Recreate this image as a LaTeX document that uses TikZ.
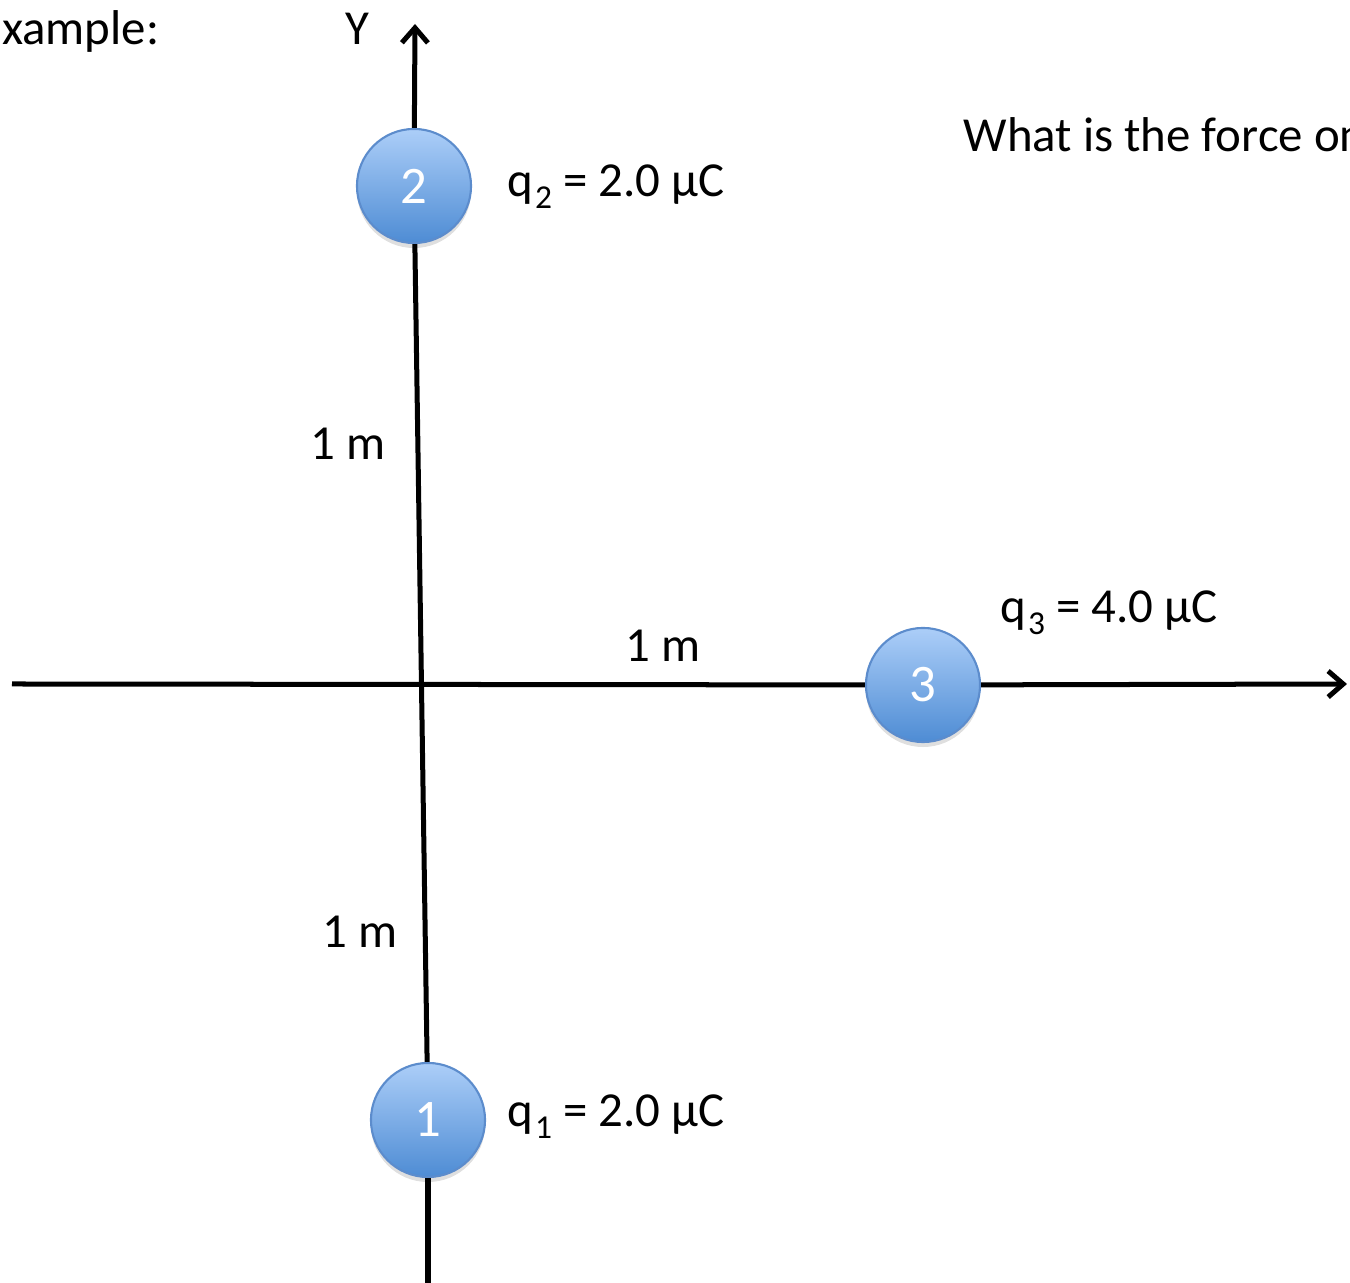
\documentclass[tikz,border=0pt]{standalone}
\usepackage{fontspec}
\setmainfont{Carlito}
\usetikzlibrary{arrows.meta,shadows}
\definecolor{chargetop}{RGB}{172,206,248}
\definecolor{chargebot}{RGB}{78,140,212}
\definecolor{chargeedge}{RGB}{92,140,204}
\newcommand\chsub[1]{\kern0.5pt\raisebox{-3.2pt}{\fontsize{9.5}{10}\selectfont #1}}
\tikzset{
  charge/.style={circle, minimum size=1.14cm, inner sep=0pt,
    top color=chargetop, bottom color=chargebot, draw=chargeedge, line width=0.6pt,
    text=white, font=\fontsize{15}{17}\selectfont,
    drop shadow={opacity=0.25, shadow xshift=0pt, shadow yshift=-0.05cm}},
  axis/.style={line width=0.05cm, black},
  axisarrow/.style={axis, -{Straight Barb[length=0.15cm, width=0.26cm, line width=0.05cm]}},
  lbl/.style={inner sep=0pt, font=\fontsize{13.9}{16}\selectfont},
}
\begin{document}
\begin{tikzpicture}[x=0.01cm, y=-0.01cm]
\useasboundingbox (0,0) rectangle (1350,1283);
\clip (0,0) rectangle (1350,1283);
% axis endpoints
\coordinate (ytip) at (415,24);
\coordinate (ybot) at (428,1290);
\coordinate (xleft) at (12,684);
\coordinate (xtip) at (1347,684);
% charges
\node[charge] (c2) at (414,186) {2};
\node[charge] (c1) at (428,1120) {1};
\node[charge] (c3) at (923,685) {3};
% axes
\draw[axis] (ybot) -- (c1);
\draw[axis] (c1) -- (c2);
\draw[axisarrow] (c2) -- (ytip);
\draw[axis] (xleft) -- (c3);
\draw[axisarrow] (c3) -- (xtip);
% labels
\node[lbl, anchor=base east] (ex) at (160,45) {Example:};
\node[lbl, anchor=base] (ylab) at (357,45) {Y};
\node[lbl, anchor=base west] (q) at (963,152) {What is the force on};
\node[lbl, anchor=base west] (q2) at (507,197) {q\chsub{2} = 2.0 µC};
\node[lbl, anchor=base west] (q1) at (507,1127) {q\chsub{1} = 2.0 µC};
\node[lbl, anchor=base west] (q3) at (1000,623) {q\chsub{3} = 4.0 µC};
\node[lbl, anchor=base] (d1) at (348,460) {1 m};
\node[lbl, anchor=base] (d2) at (360,948) {1 m};
\node[lbl, anchor=base] (d3) at (663,662) {1 m};
\end{tikzpicture}
\end{document}
